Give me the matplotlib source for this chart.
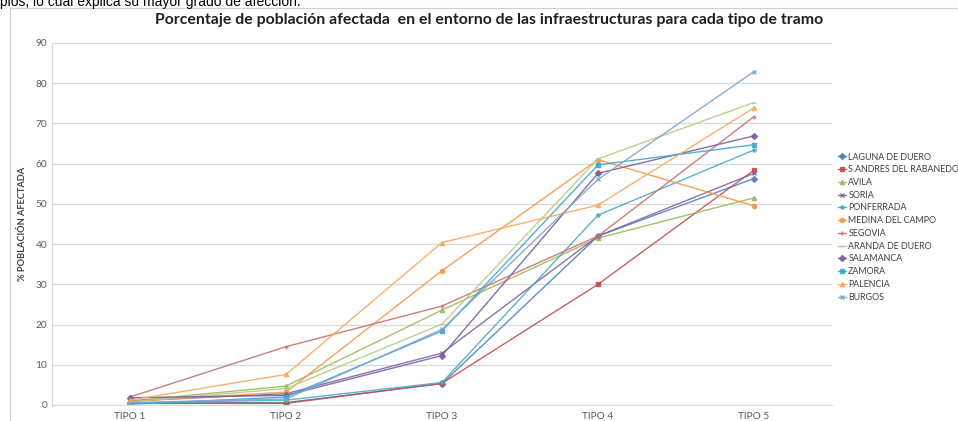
import matplotlib
matplotlib.use("Agg")
from matplotlib import pyplot as plt
from matplotlib.patches import Rectangle

# data
tipos = ['TIPO 1', 'TIPO 2', 'TIPO 3', 'TIPO 4', 'TIPO 5']

laguna = [0.5, 0.6, 5.3, 42.0, 56.3]
s_andres = [0.4, 0.4, 5.4, 30.0, 58.4]
avila = [1.0, 4.7, 23.6, 41.5, 51.5]
soria = [1.0, 2.8, 12.9, 42.0, 57.6]
ponferrada = [0.5, 1.2, 5.6, 47.2, 63.4]
medina = [0.9, 3.2, 33.4, 61.0, 49.5]
segovia = [2.0, 14.5, 24.6, 42.0, 71.7]
aranda = [0.8, 4.1, 20.1, 61.2, 75.2]
salamanca = [1.8, 2.4, 12.3, 57.6, 66.9]
zamora = [0.2, 2.0, 18.4, 59.7, 64.7]
palencia = [1.2, 7.6, 40.4, 49.7, 73.9]
burgos = [0.6, 1.5, 18.8, 56.1, 82.9]

series = [
    ('LAGUNA DE DUERO', laguna, '#4F81BD', 'D'),
    ('S.ANDRES DEL RABANEDO', s_andres, '#C0504D', 's'),
    ('AVILA', avila, '#9BBB59', '^'),
    ('SORIA', soria, '#8064A2', 'x'),
    ('PONFERRADA', ponferrada, '#4BACC6', '*'),
    ('MEDINA DEL CAMPO', medina, '#F79646', 'o'),
    ('SEGOVIA', segovia, '#C9706E', '+'),
    ('ARANDA DE DUERO', aranda, '#B3CC82', '_'),
    ('SALAMANCA', salamanca, '#7A5FA0', 'D'),
    ('ZAMORA', zamora, '#3FA9C8', 's'),
    ('PALENCIA', palencia, '#F9A85E', '^'),
    ('BURGOS', burgos, '#7FA3D0', 'x'),
]

plt.rcParams['font.family'] = ['Lato', 'DejaVu Sans']

fig = plt.figure(figsize=(9.58, 4.21), dpi=100)

# text of the surrounding document, clipped by the top edge
fig.text(0.0, 1 - 6 / 421, 'pios, lo cual explica su mayor grado de afección.',
         fontsize=10, family=['Liberation Sans', 'DejaVu Sans'],
         ha='left', va='baseline', color='black')

# chart frame
fig.patches.append(Rectangle((10 / 958, -0.01), 1.0, 1 - 8 / 421 + 0.01,
                             transform=fig.transFigure, fill=False,
                             edgecolor='#D0D0D0', linewidth=0.8))

ax = fig.add_axes([52 / 958, 1 - 405 / 421, 780 / 958, (405 - 43) / 421])

x = list(range(len(tipos)))
for name, vals, color, marker in series:
    ax.plot(x, vals, color=color, marker=marker, markersize=3,
            linewidth=1.0, alpha=0.9, label=name)

ax.set_xlim(-0.5, 4.5)
ax.set_ylim(0, 90)
ax.set_yticks(range(0, 91, 10))
ax.set_xticks(x)
ax.set_xticklabels(tipos)
ax.tick_params(length=0, labelsize=7.3, colors='#595959')
ax.tick_params(axis='x', pad=5)
ax.grid(axis='y', color='#D9D9D9', linewidth=0.9)
ax.set_axisbelow(True)
for s in ['top', 'right']:
    ax.spines[s].set_visible(False)
ax.spines['left'].set_color('#D9D9D9')
ax.spines['bottom'].set_color('#D9D9D9')

ax.set_ylabel('% POBLACIÓN AFECTADA', fontsize=6.7, fontweight='bold',
              color='#404040', labelpad=6)

fig.text(489 / 958, 1 - 20 / 421,
         'Porcentaje de población afectada  en el entorno de las infraestructuras para cada tipo de tramo',
         ha='center', va='center', fontsize=11.4, fontweight='bold', color='#202020')

leg = ax.legend(loc='upper left', bbox_to_anchor=(834 / 958, 1 - 149 / 421),
                bbox_transform=fig.transFigure, frameon=False, fontsize=6.4,
                handlelength=1.0, handletextpad=0.2, labelspacing=0.42,
                borderaxespad=0, markerscale=1.0)
for t in leg.get_texts():
    t.set_color('#404040')

fig.savefig('out.png', dpi=100)
